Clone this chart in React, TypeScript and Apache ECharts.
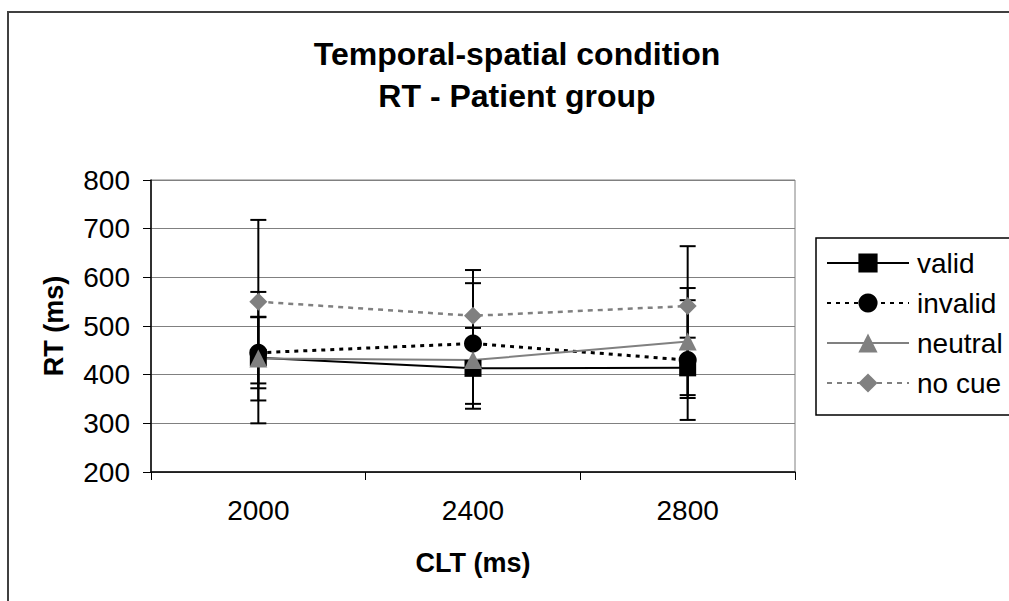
import React, { useEffect, useRef } from "react";
import * as echarts from "echarts";

const categories = ["2000", "2400", "2800"];
const seriesNames = ["valid", "invalid", "neutral", "no cue"];
const validRT = [435, 413, 414];
const invalidRT = [445, 464, 430];
const neutralRT = [433, 430, 468];
const noCueRT = [550, 521, 541];
const validErr = [135, 83, 62];
const invalidErr = [73, 124, 123];
const neutralErr = [86, 30, 110];
const noCueErr = [168, 94, 123];

export default function App() {
  const ref = useRef<HTMLDivElement>(null);
  useEffect(() => {
    if (!ref.current) return;
    const chart = echarts.init(ref.current, undefined, { renderer: "svg" });
    const means = [validRT, invalidRT, neutralRT, noCueRT];
    const errs = [validErr, invalidErr, neutralErr, noCueErr];
    const errData: number[][] = [];
    means.forEach((m, s) => {
      m.forEach((v, i) => {
        errData.push([i, v - errs[s][i], v + errs[s][i]]);
      });
    });
    const font = "Arial, 'Liberation Sans', sans-serif";
    chart.setOption({
      animation: false,
      backgroundColor: "#ffffff",
      textStyle: { fontFamily: font },
      title: {
        text: "Temporal-spatial condition\nRT - Patient group",
        left: 512,
        top: 28,
        textAlign: "center",
        textStyle: { fontSize: 32, fontWeight: "bold", color: "#000", lineHeight: 42, fontFamily: font },
      },
      graphic: [
        {
          type: "rect",
          shape: { x: 8, y: 12, width: 1010, height: 600 },
          style: { fill: "none", stroke: "#404040", lineWidth: 2 },
          silent: true,
        },
        {
          type: "rect",
          shape: { x: 816, y: 238, width: 200, height: 177 },
          style: { fill: "none", stroke: "#000", lineWidth: 1.5 },
          silent: true,
        },
      ],
      legend: {
        data: seriesNames,
        orient: "vertical",
        left: 826,
        top: 249,
        padding: 0,
        itemWidth: 82,
        itemHeight: 24,
        itemGap: 12,
        textStyle: { fontSize: 28, color: "#000", fontFamily: font, padding: [0, 0, 0, 3] },
      },
      grid: {
        left: 151,
        top: 180,
        width: 644,
        height: 292,
        show: true,
        borderColor: "#808080",
        borderWidth: 1,
        backgroundColor: "#fff",
      },
      xAxis: {
        type: "category",
        data: categories,
        boundaryGap: true,
        axisLine: { lineStyle: { color: "#000", width: 1.5 } },
        axisTick: { show: true, length: 8, lineStyle: { color: "#000" } },
        axisLabel: { fontSize: 28, color: "#000", margin: 24, fontFamily: font },
        name: "CLT (ms)",
        nameLocation: "middle",
        nameGap: 77,
        nameTextStyle: { fontSize: 27, fontWeight: "bold", color: "#000", fontFamily: font },
      },
      yAxis: {
        type: "value",
        min: 200,
        max: 800,
        interval: 100,
        axisLine: { show: true, lineStyle: { color: "#000", width: 1.5 } },
        axisTick: { show: true, length: 8, lineStyle: { color: "#000" } },
        axisLabel: { fontSize: 28, color: "#000", margin: 21, fontFamily: font },
        splitLine: { show: true, lineStyle: { color: "#808080", width: 1 } },
        name: "RT (ms)",
        nameLocation: "middle",
        nameGap: 84,
        nameTextStyle: { fontSize: 27, fontWeight: "bold", color: "#000", fontFamily: font },
      },
      series: [
        {
          type: "custom",
          name: "err",
          z: 1,
          data: errData,
          encode: { x: 0, y: [1, 2] },
          renderItem: (params: any, api: any) => {
            const x = api.value(0);
            const lo = api.coord([x, api.value(1)]);
            const hi = api.coord([x, api.value(2)]);
            const w = 8;
            const st = { stroke: "#000", lineWidth: 2 };
            return {
              type: "group",
              children: [
                { type: "line", shape: { x1: lo[0], y1: lo[1], x2: hi[0], y2: hi[1] }, style: st },
                { type: "line", shape: { x1: lo[0] - w, y1: lo[1], x2: lo[0] + w, y2: lo[1] }, style: st },
                { type: "line", shape: { x1: hi[0] - w, y1: hi[1], x2: hi[0] + w, y2: hi[1] }, style: st },
              ],
            };
          },
        },
        {
          type: "line",
          name: "valid",
          data: validRT,
          z: 3,
          symbol: "rect",
          symbolSize: 17,
          itemStyle: { color: "#000" },
          lineStyle: { color: "#000", width: 2 },
        },
        {
          type: "line",
          name: "invalid",
          data: invalidRT,
          z: 3,
          symbol: "circle",
          symbolSize: 18,
          itemStyle: { color: "#000" },
          lineStyle: { color: "#000", width: 3, type: [4, 5] },
        },
        {
          type: "line",
          name: "neutral",
          data: neutralRT,
          z: 3,
          symbol: "triangle",
          symbolSize: 18,
          itemStyle: { color: "#808080" },
          lineStyle: { color: "#808080", width: 2 },
        },
        {
          type: "line",
          name: "no cue",
          data: noCueRT,
          z: 3,
          symbol: "diamond",
          symbolSize: 18,
          itemStyle: { color: "#808080" },
          lineStyle: { color: "#808080", width: 2.5, type: [5, 5] },
        },
      ],
    });
    return () => chart.dispose();
  }, []);
  return (
    <div
      ref={ref}
      style={{ position: "fixed", left: 0, top: 0, width: 1009, height: 601, background: "#fff" }}
    />
  );
}
